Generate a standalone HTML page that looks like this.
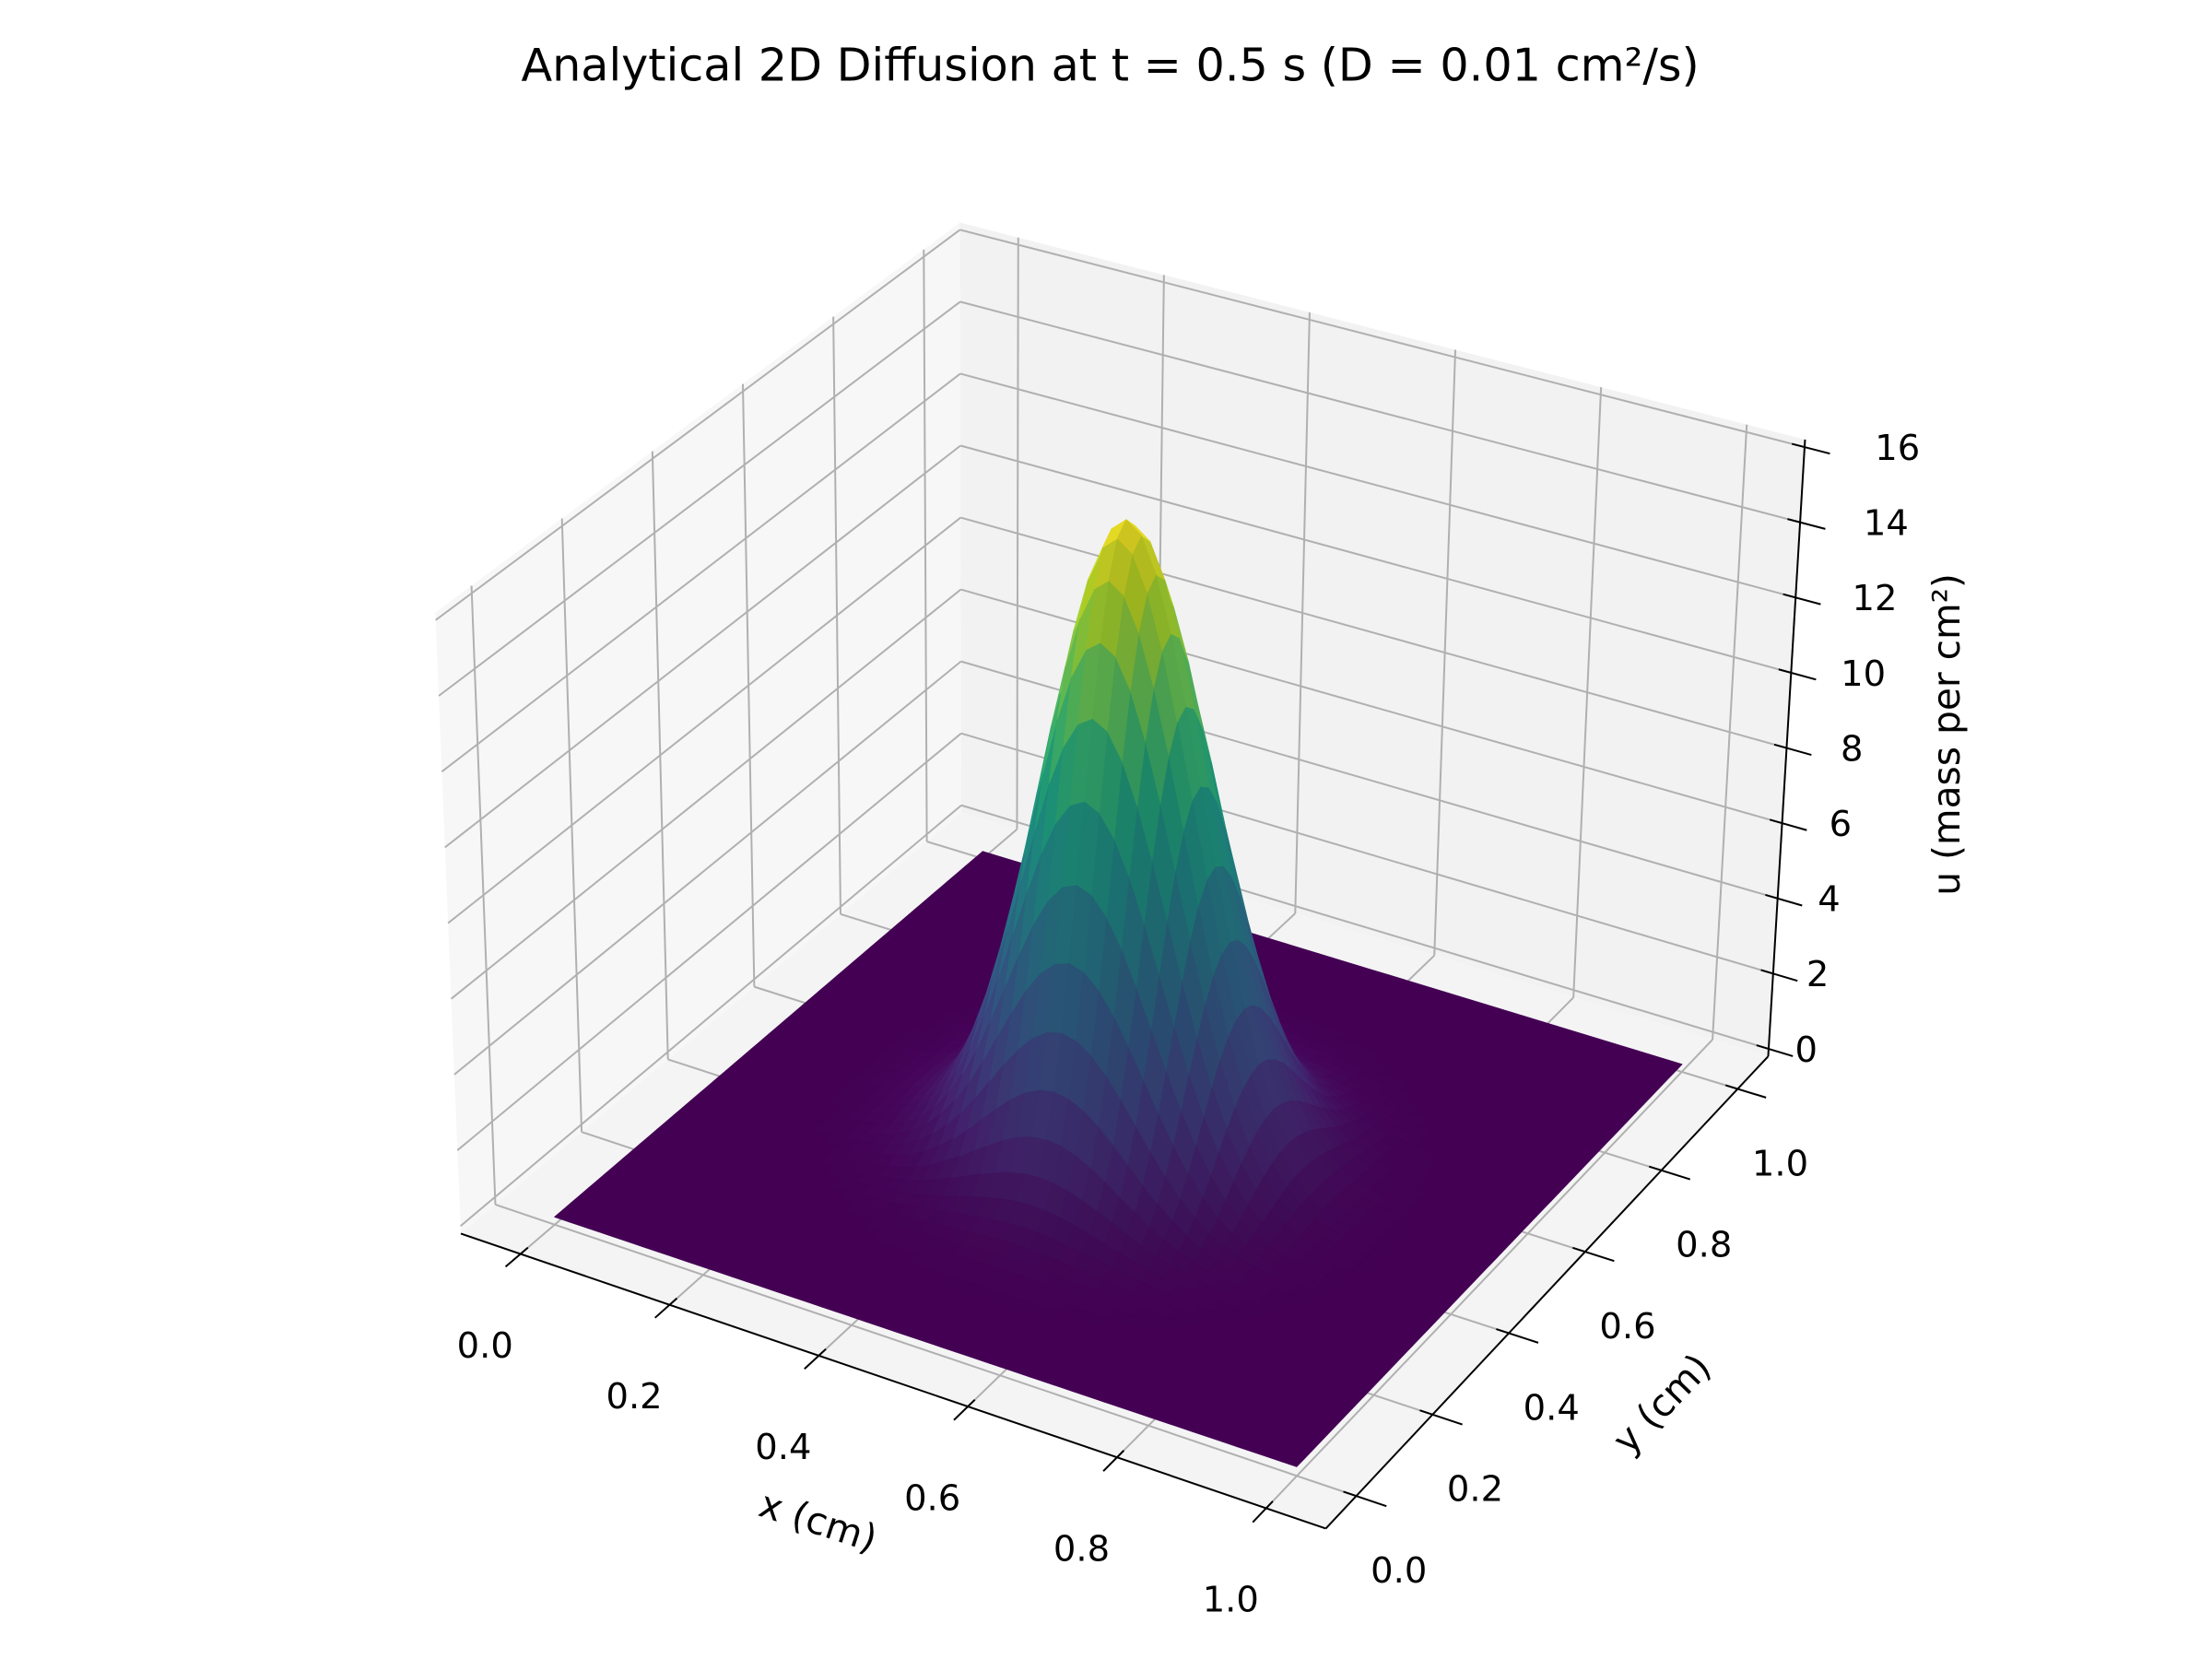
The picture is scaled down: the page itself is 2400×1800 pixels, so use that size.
<!DOCTYPE html>
<html><head><meta charset="utf-8"><title>Analytical 2D Diffusion</title>
<style>html,body{margin:0;padding:0;background:#fff}svg{display:block}text{font-family:"DejaVu Sans","Liberation Sans",sans-serif;fill:#000}</style>
</head><body>
<svg id="chart" xmlns="http://www.w3.org/2000/svg" width="2400" height="1800" viewBox="0 0 1560 1170">
<rect width="1560" height="1170" fill="#fff"/>
<text x="783" y="57" font-size="32" text-anchor="middle">Analytical 2D Diffusion at t = 0.5 s (D = 0.01 cm²/s)</text>
<g id="panes"></g>
<g id="grid"></g>
<g id="surf"></g>
<g id="axes"></g>
<text x="577" y="1082" font-size="26.5" text-anchor="middle" transform="rotate(18 577 1073)">x (cm)</text>
<text x="1172" y="999" font-size="26.5" text-anchor="middle" transform="rotate(-46 1172 990)">y (cm)</text>
<text x="1373" y="527" font-size="26.5" text-anchor="middle" transform="rotate(-90 1373 518)">u (mass per cm²)</text>
</svg>
<script>
const diffusivity = [0.01];
const timeValue = [0.5];
const sourceCenter = [0.5, 0.5];
const sourceMass = [1];
const gridCount = [51];
const xTicks = [0, 0.2, 0.4, 0.6, 0.8, 1.0];
const yTicks = [0, 0.2, 0.4, 0.6, 0.8, 1.0];
const zTicks = [0, 2, 4, 6, 8, 10, 12, 14, 16];
const xTickLabels = ["0.0","0.2","0.4","0.6","0.8","1.0"];
const yTickLabels = ["0.0","0.2","0.4","0.6","0.8","1.0"];
const zTickLabels = ["0","2","4","6","8","10","12","14","16"];

const NS = "http://www.w3.org/2000/svg";
const XL=[-0.08,1.08], YL=[-0.08,1.08], ZL=[-0.2,16.2];
const F00=[325,870],F10=[935,1078],F11=[1247,745],F01=[678,573];
const T00=[307,432],T10=[920,535],T11=[1273,310],T01=[677,157];
function bil(a,b,c,d,u,v){return [a[0]*(1-u)*(1-v)+b[0]*u*(1-v)+d[0]*(1-u)*v+c[0]*u*v, a[1]*(1-u)*(1-v)+b[1]*u*(1-v)+d[1]*(1-u)*v+c[1]*u*v];}
function projN(u,v,w){const f=bil(F00,F10,F11,F01,u,v),t=bil(T00,T10,T11,T01,u,v);return [f[0]*(1-w)+t[0]*w,f[1]*(1-w)+t[1]*w];}
function nx(x){return (x-XL[0])/(XL[1]-XL[0]);}
function ny(y){return (y-YL[0])/(YL[1]-YL[0]);}
function nz(z){return (z-ZL[0])/(ZL[1]-ZL[0]);}
function proj(x,y,z){return projN(nx(x),ny(y),nz(z));}
function mk(tag,attrs,parent){const e=document.createElementNS(NS,tag);for(const k in attrs)e.setAttribute(k,attrs[k]);parent.appendChild(e);return e;}
function pts(a){return a.map(p=>p[0].toFixed(2)+","+p[1].toFixed(2)).join(" ");}

const panes=document.getElementById('panes');
let e;
e=mk('polygon',{points:pts([projN(0,0,0),projN(0,1,0),projN(0,1,1),projN(0,0,1)]),fill:'#f7f7f7'},panes);


e=mk('polygon',{points:pts([projN(0,1,0),projN(1,1,0),projN(1,1,1),projN(0,1,1)]),fill:'#f2f2f2'},panes);


e=mk('polygon',{points:pts([projN(0,0,0),projN(1,0,0),projN(1,1,0),projN(0,1,0)]),fill:'#f4f4f4'},panes);



const grid=document.getElementById('grid');
function gl(a,b,name){const l=mk('line',{x1:a[0],y1:a[1],x2:b[0],y2:b[1],stroke:'#b0b0b0','stroke-width':1.3},grid);

}
xTicks.forEach(x=>{gl(projN(nx(x),0,0),projN(nx(x),1,0),'floor-gridline-x');gl(projN(nx(x),1,0),projN(nx(x),1,1),'back-gridline-x');});
yTicks.forEach(y=>{gl(projN(0,ny(y),0),projN(1,ny(y),0),'floor-gridline-y');gl(projN(0,ny(y),0),projN(0,ny(y),1),'left-gridline-y');});
zTicks.forEach(z=>{gl(projN(0,0,nz(z)),projN(0,1,nz(z)),'left-gridline-z');gl(projN(0,1,nz(z)),projN(1,1,nz(z)),'back-gridline-z');});

const N=gridCount[0], D=diffusivity[0], t=timeValue[0];
function U(x,y){const r2=(x-sourceCenter[0])**2+(y-sourceCenter[1])**2;return sourceMass[0]/(4*Math.PI*D*t)*Math.exp(-r2/(4*D*t));}
const xs=[],Z=[];
for(let i=0;i<N;i++)xs.push(i/(N-1));
for(let j=0;j<N;j++){Z.push(xs.map(x=>U(x,xs[j])));}
let zmin=Infinity,zmax=-Infinity;Z.forEach(r=>r.forEach(v=>{zmin=Math.min(zmin,v);zmax=Math.max(zmax,v);}));
const vir=[[68,1,84],[72,36,117],[65,68,135],[53,95,141],[42,120,142],[33,145,140],[34,168,132],[68,191,112],[122,209,81],[189,223,38],[253,231,37]];
function viridis(s){s=Math.max(0,Math.min(1,s))*10;const i=Math.min(9,Math.floor(s)),f=s-i;return vir[i].map((c,k)=>c+(vir[i+1][k]-c)*f);}
const faces=[];
for(let j=0;j<N-1;j++)for(let i=0;i<N-1;i++){
 const x0=xs[i],x1=xs[i+1],y0=xs[j],y1=xs[j+1];
 const z00=Z[j][i],z10=Z[j][i+1],z11=Z[j+1][i+1],z01=Z[j+1][i];
 const zc=(z00+z10+z11+z01)/4, xc=(x0+x1)/2, yc=(y0+y1)/2;
 const dzx=((z10+z11)-(z00+z01))/2/(x1-x0)/16, dzy=((z01+z11)-(z00+z10))/2/(y1-y0)/16;
 let n=[-dzx,-dzy,1];const L=Math.hypot(...n);n=n.map(v=>v/L);
 const ls=[-0.5,0.5,0.707];const ll=Math.hypot(...ls);
 const d=(n[0]*ls[0]+n[1]*ls[1]+n[2]*ls[2])/ll;
 const shade=0.72+0.28*Math.max(0,(d+1)/2)*1.15;
 const depth=0.433*xc-0.75*yc+0.5*nz(zc)*1.1;
 faces.push({p:[proj(x0,y0,z00),proj(x1,y0,z10),proj(x1,y1,z11),proj(x0,y1,z01)],c:viridis((zc-zmin)/(zmax-zmin)).map(v=>Math.round(Math.min(255,v*Math.min(1.08,shade)))),depth});
}
faces.sort((a,b)=>a.depth-b.depth);
const surf=document.getElementById('surf');
faces.forEach(f=>{const col='rgb('+f.c.join(',')+')';
 const p=mk('polygon',{points:pts(f.p),fill:col,stroke:col,'stroke-width':0.5,'stroke-linejoin':'round'},surf);
 
 });

const axes=document.getElementById('axes');
function line(a,b,name,w){const l=mk('line',{x1:a[0],y1:a[1],x2:b[0],y2:b[1],stroke:'#000','stroke-width':w||1.3},axes);

}
function txt(p,s,name){const tx=mk('text',{x:p[0],y:p[1]+9,'font-size':25,'text-anchor':'middle'},axes);tx.textContent=s;

}
line(projN(0,0,0),projN(1,0,0),'x-axis-line');
line(projN(1,0,0),projN(1,1,0),'y-axis-line');
line(projN(1,1,0),projN(1,1,1),'z-axis-line');
xTicks.forEach((x,k)=>{const a=projN(nx(x),0.015,0),b=projN(nx(x),-0.03,0);line(a,b,'x-tick');
 const p=projN(nx(x),0,0);txt([p[0]-25,p[1]+64],xTickLabels[k],'x-tick-label');});
yTicks.forEach((y,k)=>{const a=projN(0.985,ny(y),0),b=projN(1.035,ny(y),0);line(a,b,'y-tick');
 const p=projN(1,ny(y),0);txt([p[0]+30,p[1]+52],yTickLabels[k],'y-tick-label');});
zTicks.forEach((z,k)=>{const a=projN(0.985,1,nz(z)),b=projN(1.03,1,nz(z));line(a,b,'z-tick');
 const w=nz(z);const p=projN(1,1,w);txt([p[0]+26+40*w,p[1]],zTickLabels[k],'z-tick-label');});
</script>
</body></html>
